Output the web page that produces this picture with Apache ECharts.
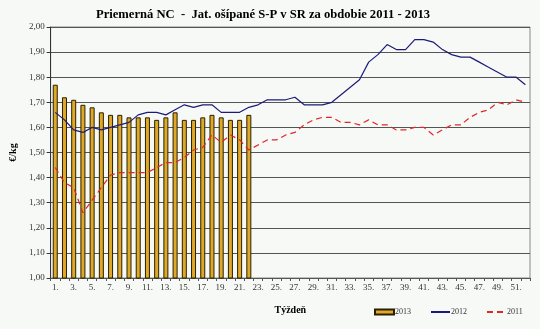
<!DOCTYPE html>
<html>
<head>
<meta charset="utf-8">
<script src="https://cdn.jsdelivr.net/npm/echarts@6/dist/echarts.min.js"></script>
<style>
html,body{margin:0;padding:0;background:#f6f9f6;}
#c{width:540px;height:329px;}
</style>
</head>
<body>
<div id="c"></div>
<script>
var weeks = ["1.","2.","3.","4.","5.","6.","7.","8.","9.","10.","11.","12.","13.","14.","15.","16.","17.","18.","19.","20.","21.","22.","23.","24.","25.","26.","27.","28.","29.","30.","31.","32.","33.","34.","35.","36.","37.","38.","39.","40.","41.","42.","43.","44.","45.","46.","47.","48.","49.","50.","51.","52."];
var val2013 = [1.77,1.72,1.71,1.69,1.68,1.66,1.65,1.65,1.64,1.64,1.64,1.63,1.64,1.66,1.63,1.63,1.64,1.65,1.64,1.63,1.63,1.65];
var val2012 = [1.66,1.63,1.59,1.58,1.60,1.59,1.60,1.61,1.62,1.65,1.66,1.66,1.65,1.67,1.69,1.68,1.69,1.69,1.66,1.66,1.66,1.68,1.69,1.71,1.71,1.71,1.72,1.69,1.69,1.69,1.70,1.73,1.76,1.79,1.86,1.89,1.93,1.91,1.91,1.95,1.95,1.94,1.91,1.89,1.88,1.88,1.86,1.84,1.82,1.80,1.80,1.77];
var val2011 = [1.44,1.38,1.36,1.26,1.31,1.36,1.41,1.42,1.42,1.42,1.42,1.44,1.46,1.46,1.48,1.51,1.52,1.57,1.54,1.57,1.55,1.51,1.53,1.55,1.55,1.57,1.58,1.61,1.63,1.64,1.64,1.62,1.62,1.61,1.63,1.61,1.61,1.59,1.59,1.60,1.60,1.57,1.59,1.61,1.61,1.64,1.66,1.67,1.70,1.69,1.71,1.70];
var seriesNames = ["2013","2012","2011"];
var titleText = "Priemerná NC  -  Jat. ošípané S-P v SR za obdobie 2011 - 2013";

var serif = "Liberation Serif";
var hiddenMark = {opacity: 0, color: 'transparent', borderWidth: 0};
var chart = echarts.init(document.getElementById('c'), null, {renderer:'canvas'});
chart.setOption({
  backgroundColor: '#f6f9f6',
  animation: false,
  title: {
    text: titleText, left: 258, top: 3, textAlign: 'center',
    textStyle: {fontFamily: serif, fontWeight: 'bold', fontSize: 12.6, color: '#000'}
  },
  legend: {
    left: 374, top: 308, padding: 0, itemWidth: 19, itemHeight: 5, itemGap: 19,
    textStyle: {fontFamily: serif, fontSize: 8, color: '#333', padding: [0,0,0,-4]},
    data: [{name: seriesNames[0], icon: 'rect'},
           {name: seriesNames[1], itemStyle: hiddenMark},
           {name: seriesNames[2], itemStyle: hiddenMark}]
  },
  grid: {left: 41, right: 10, top: 27, bottom: 51, show: true, borderColor: '#888', borderWidth: 1, backgroundColor: 'transparent'},
  xAxis: {
    type: 'category', data: weeks, boundaryGap: true,
    name: 'Týždeň', nameLocation: 'middle', nameGap: 27,
    nameTextStyle: {fontFamily: serif, fontWeight: 'bold', fontSize: 10, color: '#000'},
    axisLine: {lineStyle: {color: '#555'}},
    axisTick: {show: true, interval: 0, length: 3, lineStyle: {color: '#555'}},
    axisLabel: {interval: 1, fontFamily: serif, fontSize: 9, color: '#333', margin: 5}
  },
  yAxis: {
    type: 'value', min: 1, max: 2, interval: 0.1,
    name: '€/kg', nameLocation: 'middle', nameGap: 30, nameRotate: 90,
    nameTextStyle: {fontFamily: serif, fontWeight: 'bold', fontSize: 10, color: '#000'},
    axisLine: {show: true, lineStyle: {color: '#333'}},
    axisTick: {show: true, length: 4, lineStyle: {color: '#333'}},
    axisLabel: {fontFamily: serif, fontSize: 9, color: '#333', margin: 6,
      formatter: function(v){ return v.toFixed(2).replace('.', ','); }},
    splitLine: {show: true, lineStyle: {color: '#555', width: 1}}
  },
  series: [
    {name: seriesNames[0], type: 'bar', data: val2013, barWidth: 5,
     itemStyle: {color: '#e0a828', borderColor: '#2a2000', borderWidth: 1}},
    {name: seriesNames[1], type: 'line', data: val2012, symbol: 'none',
     lineStyle: {color: '#1c1c78', width: 1.2}, itemStyle: {color: '#1c1c78'}},
    {name: seriesNames[2], type: 'line', data: val2011, symbol: 'none',
     lineStyle: {color: '#e02828', width: 1.2, type: [6,4]}, itemStyle: {color: '#e02828'}}
  ]
});
</script>
</body>
</html>
